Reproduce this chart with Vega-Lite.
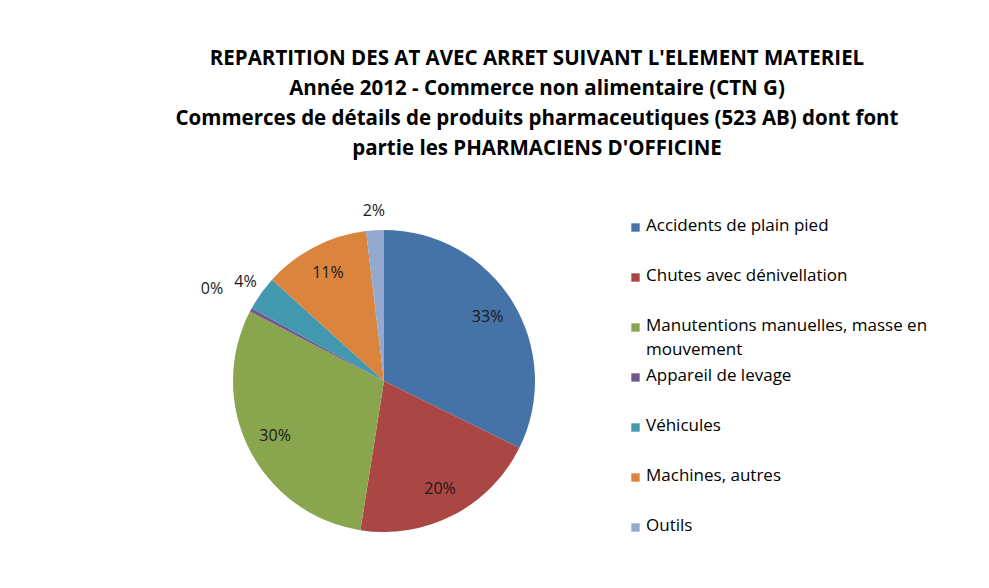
{
  "$schema": "https://vega.github.io/schema/vega-lite/v6.json",
  "width": 302,
  "height": 302,
  "autosize": {"type": "none"},
  "padding": {"left": 233, "top": 230, "right": 454, "bottom": 56},
  "background": "white",
  "view": {"stroke": null},
  "title": {
    "text": [
      "REPARTITION DES AT AVEC ARRET SUIVANT L'ELEMENT MATERIEL",
      "Année 2012  - Commerce non alimentaire (CTN G)",
      "Commerces de détails de produits pharmaceutiques (523 AB) dont font",
      "partie les PHARMACIENS D'OFFICINE"
    ],
    "font": "Open Sans",
    "fontSize": 20.5,
    "fontWeight": "bold",
    "color": "#000000",
    "lineHeight": 30,
    "anchor": "middle",
    "frame": "group",
    "dx": 153,
    "offset": 19
  },
  "data": {
    "values": [
      {"rank": 1, "category": "Accidents de plain pied", "value": 32.3, "label": "33%"},
      {"rank": 2, "category": "Chutes avec dénivellation", "value": 20.2, "label": "20%"},
      {"rank": 3, "category": "Manutentions manuelles, masse en|mouvement", "value": 30.1, "label": "30%"},
      {"rank": 4, "category": "Appareil de levage", "value": 0.4, "label": "0%"},
      {"rank": 5, "category": "Véhicules", "value": 3.7, "label": "4%"},
      {"rank": 6, "category": "Machines, autres", "value": 11.4, "label": "11%"},
      {"rank": 7, "category": "Outils", "value": 1.9, "label": "2%"}
    ]
  },
  "encoding": {
    "theta": {"field": "value", "type": "quantitative", "stack": true},
    "order": {"field": "rank", "type": "quantitative"}
  },
  "layer": [
    {
      "mark": {"type": "arc"},
      "encoding": {
        "color": {
          "field": "category",
          "type": "nominal",
          "sort": {"field": "rank"},
          "scale": {
            "domain": [
              "Accidents de plain pied",
              "Chutes avec dénivellation",
              "Manutentions manuelles, masse en|mouvement",
              "Appareil de levage",
              "Véhicules",
              "Machines, autres",
              "Outils"
            ],
            "range": ["#4572A7", "#AA4643", "#89A54E", "#71588F", "#4198AF", "#DB843D", "#93A9CF"]
          },
          "legend": {
            "title": null,
            "orient": "none",
            "legendX": 394,
            "legendY": -11,
            "symbolType": "square",
            "symbolSize": 70,
            "symbolStrokeWidth": 0,
            "labelFont": "Open Sans",
            "labelFontSize": 17,
            "labelColor": "#000000",
            "labelLimit": 400,
            "labelOffset": 2,
            "labelExpr": "split(datum.label, '|')",
            "gridAlign": "all",
            "rowPadding": 8,
            "encode": {
              "labels": {"update": {"lineHeight": {"value": 24}, "baseline": {"value": "top"}, "dy": {"value": -10}}}
            }
          }
        }
      }
    },
    {
      "mark": {"type": "text", "radius": 122, "font": "Open Sans", "fontSize": 16, "color": "#1a1a1a"},
      "encoding": {
        "text": {"condition": {"test": "datum.value >= 5", "field": "label"}, "value": ""}
      }
    },
    {
      "mark": {"type": "text", "radius": 170, "font": "Open Sans", "fontSize": 16, "color": "#1a1a1a"},
      "encoding": {
        "text": {"condition": {"test": "datum.value >= 1 && datum.value < 5", "field": "label"}, "value": ""}
      }
    },
    {
      "mark": {"type": "text", "radius": 195, "font": "Open Sans", "fontSize": 16, "color": "#1a1a1a"},
      "encoding": {
        "text": {"condition": {"test": "datum.value < 1", "field": "label"}, "value": ""}
      }
    }
  ]
}
